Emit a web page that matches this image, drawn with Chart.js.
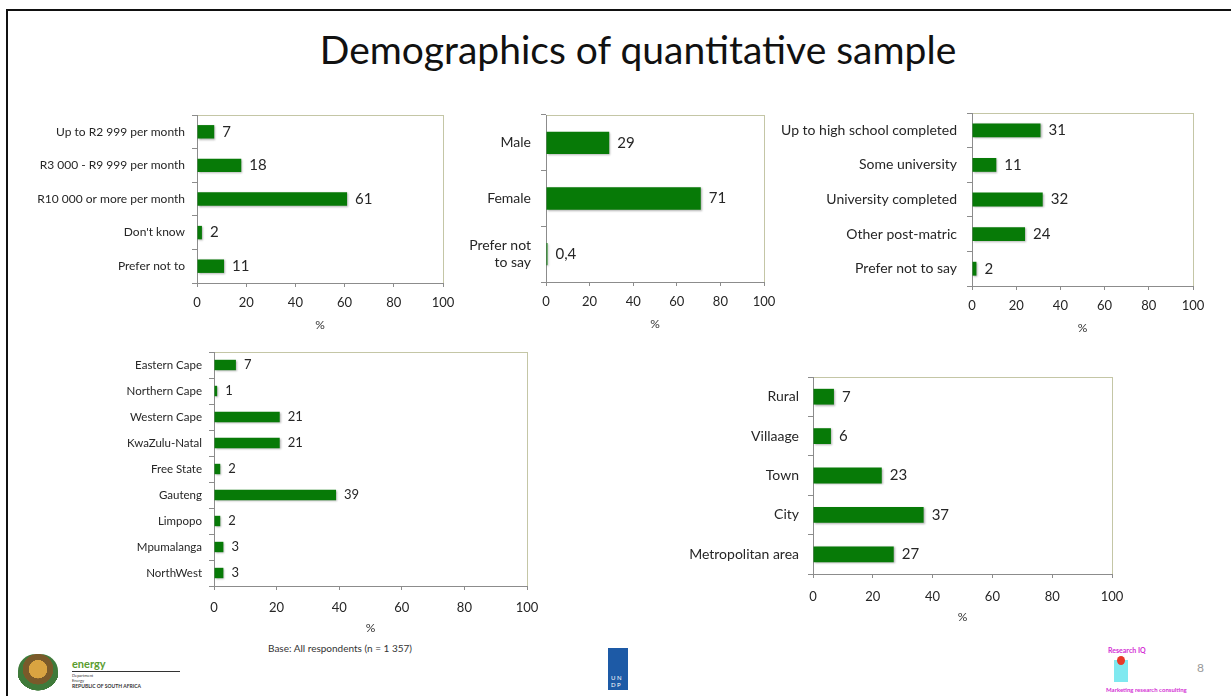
<!DOCTYPE html>
<html>
<head>
<meta charset="utf-8">
<script src="https://cdn.jsdelivr.net/npm/chart.js@4.4.1/dist/chart.umd.min.js"></script>
<style>
  body { margin: 0; background: #fff; font-family: Lato, "Open Sans", sans-serif; }
  #slide { position: relative; width: 1231px; height: 696px; overflow: hidden; }
  #frame { position: absolute; left: 6px; top: 9px; width: 1240px; height: 700px; border-top: 2px solid #111; border-left: 2px solid #111; }
  #title { position: absolute; left: 138px; width: 1000px; top: 26px; text-align: center; font-size: 39px; color: #111; }
  canvas { position: absolute; }
  .txt { position: absolute; white-space: nowrap; }
</style>
</head>
<body>
<div id="slide">
  <div id="frame"></div>
  <div id="title">Demographics of quantitative sample</div>

  <canvas id="income"></canvas>
  <canvas id="gender"></canvas>
  <canvas id="education"></canvas>
  <canvas id="province"></canvas>
  <canvas id="settlement"></canvas>

  <div class="txt" style="left:268px; top:642px; font-size:10px; color:#333;">Base: All respondents (n = 1 357)</div>

  <!-- footer logos, rough -->
  <div style="position:absolute; left:18px; top:654px; width:40px; height:38px; border-radius:45% 45% 40% 40%; background:radial-gradient(circle at 50% 40%, #d9a441 0 30%, #7a5a2a 31% 50%, #3f7a3a 51% 70%, #fff 71%);"></div>
  <div class="txt" style="left:72px; top:657px; font-size:11px; font-weight:bold; color:#5a9c2e;">energy</div>
  <div style="position:absolute; left:72px; top:671px; width:108px; height:1px; background:#333;"></div>
  <div class="txt" style="left:72px; top:673px; font-size:4px; color:#333; line-height:5px;">Department<br>Energy</div>
  <div class="txt" style="left:72px; top:683px; font-size:5px; font-weight:bold; color:#333;">REPUBLIC OF SOUTH AFRICA</div>
  <div style="position:absolute; left:608px; top:648px; width:20px; height:42px; background:#1d5aa6;"></div>
  <div class="txt" style="left:611px; top:674px; font-size:6px; color:#fff; line-height:7px;">U N<br>D P</div>
  <div class="txt" style="left:1108px; top:646px; font-size:7px; font-weight:bold; color:#d42fd4;">Research IQ</div>
  <div style="position:absolute; left:1114px; top:660px; width:14px; height:22px; background:#7fe9f0;"></div>
  <div style="position:absolute; left:1117px; top:656px; width:8px; height:9px; border-radius:50%; background:#e83a2a;"></div>
  <div class="txt" style="left:1106px; top:686px; font-size:6px; font-weight:bold; color:#d42fd4;">Marketing research consulting</div>
  <div class="txt" style="left:1197px; top:660px; font-size:12px; color:#999;">8</div>
</div>

<script>
// Income
const incomeLabels = ['Up to R2 999 per month', 'R3 000 - R9 999 per month', 'R10 000 or more per month', "Don't know", 'Prefer not to'];
const incomeValues = [7, 18, 61, 2, 11];

// Gender
const genderLabels = ['Male', 'Female', ['Prefer not', 'to say']];
const genderValues = [29, 71, 0.4];

// Education
const educationLabels = ['Up to high school completed', 'Some university', 'University completed', 'Other post-matric', 'Prefer not to say'];
const educationValues = [31, 11, 32, 24, 2];

// Province
const provinceLabels = ['Eastern Cape', 'Northern Cape', 'Western Cape', 'KwaZulu-Natal', 'Free State', 'Gauteng', 'Limpopo', 'Mpumalanga', 'NorthWest'];
const provinceValues = [7, 1, 21, 21, 2, 39, 2, 3, 3];

// Settlement type
const settlementLabels = ['Rural', 'Villaage', 'Town', 'City', 'Metropolitan area'];
const settlementValues = [7, 6, 23, 37, 27];

const xTicks = [0, 20, 40, 60, 80, 100];

const FONT = 'Lato, "Open Sans", sans-serif';
const GREEN = '#077a07';
const AXIS = '#8c8c8c';

const plotFrame = {
    id: 'plotFrame',
    beforeDraw(chart) {
        const { ctx, chartArea: a } = chart;
        ctx.save();
        ctx.strokeStyle = '#c4c6a6';
        ctx.lineWidth = 1;
        ctx.strokeRect(Math.round(a.left) + 0.5, Math.round(a.top) + 0.5, Math.round(a.right - a.left), Math.round(a.bottom - a.top));
        ctx.restore();
    }
};

const barShadow = {
    id: 'barShadow',
    beforeDatasetsDraw(chart) {
        const ctx = chart.ctx;
        ctx.save();
        ctx.shadowColor = 'rgba(0,0,0,0.3)';
        ctx.shadowBlur = 2;
        ctx.shadowOffsetX = 1;
        ctx.shadowOffsetY = 1;
    },
    afterDatasetsDraw(chart) {
        chart.ctx.restore();
    }
};

const valueLabels = {
    id: 'valueLabels',
    afterDatasetsDraw(chart, args, opts) {
        const ctx = chart.ctx;
        const data = chart.data.datasets[0].data;
        ctx.save();
        ctx.font = `${opts.size}px ${FONT}`;
        ctx.fillStyle = '#262626';
        ctx.textBaseline = 'middle';
        chart.getDatasetMeta(0).data.forEach((bar, i) => {
            ctx.fillText(String(data[i]).replace('.', ','), bar.x + opts.gap, bar.y);
        });
        ctx.restore();
    }
};

// box: canvas left/top/right/bottom, plot left/top/right/bottom
function makeChart(id, labels, values, box, f) {
    const cv = document.getElementById(id);
    const w = box.right - box.left, h = box.bottom - box.top;
    cv.width = w; cv.height = h;
    cv.style.left = box.left + 'px';
    cv.style.top = box.top + 'px';
    cv.style.width = w + 'px';
    cv.style.height = h + 'px';

    new Chart(cv, {
        type: 'bar',
        data: {
            labels,
            datasets: [{
                data: values,
                backgroundColor: GREEN,
                borderWidth: 0,
                categoryPercentage: 1,
                barPercentage: 0.4,
                minBarLength: 1.5
            }]
        },
        plugins: [plotFrame, barShadow, valueLabels],
        options: {
            indexAxis: 'y',
            responsive: false,
            animation: false,
            devicePixelRatio: 1,
            layout: { padding: { top: box.plotTop - box.top, right: box.right - box.plotRight, left: 0, bottom: 0 } },
            plugins: {
                legend: { display: false },
                tooltip: { enabled: false },
                valueLabels: { size: f.value, gap: f.gap || 8 }
            },
            scales: {
                x: {
                    min: 0, max: 100,
                    afterBuildTicks: s => { s.ticks = xTicks.map(v => ({ value: v })); },
                    afterFit: s => {
                        s.height = box.bottom - box.plotBottom;
                        s.paddingLeft = 0; s.paddingRight = 0;
                    },
                    grid: { drawOnChartArea: false, drawTicks: true, tickLength: 4, color: AXIS },
                    border: { color: AXIS },
                    ticks: { font: { family: FONT, size: f.tick }, color: '#262626', padding: f.tickPad || 7, maxRotation: 0 },
                    title: { display: true, text: '%', font: { family: FONT, size: 12 }, color: '#333', padding: 0 }
                },
                y: {
                    afterFit: s => {
                        s.width = box.plotLeft - box.left;
                        s.paddingTop = 0; s.paddingBottom = 0;
                    },
                    grid: { drawOnChartArea: false, drawTicks: true, tickLength: 5, color: AXIS, offset: true },
                    border: { color: AXIS },
                    ticks: { font: { family: FONT, size: f.label, lineHeight: 1.25 }, color: '#262626', padding: f.labelPad || 8 }
                }
            }
        }
    });
}

makeChart('income', incomeLabels, incomeValues,
    { left: 20, top: 105, right: 462, bottom: 332, plotLeft: 197, plotTop: 115, plotRight: 443, plotBottom: 283 },
    { label: 12, tick: 13, value: 15, labelPad: 7, tickPad: 8 });

makeChart('gender', genderLabels, genderValues,
    { left: 455, top: 105, right: 786, bottom: 331, plotLeft: 546, plotTop: 115, plotRight: 764, plotBottom: 282 },
    { label: 14, tick: 13, value: 15, labelPad: 10, tickPad: 8 });

makeChart('education', educationLabels, educationValues,
    { left: 770, top: 103, right: 1215, bottom: 335, plotLeft: 972, plotTop: 113, plotRight: 1193, plotBottom: 286 },
    { label: 14, tick: 13, value: 15, labelPad: 10, tickPad: 8 });

makeChart('province', provinceLabels, provinceValues,
    { left: 95, top: 342, right: 546, bottom: 635, plotLeft: 214, plotTop: 352, plotRight: 527, plotBottom: 586 },
    { label: 11.5, tick: 13, value: 13, labelPad: 7, tickPad: 10 });

makeChart('settlement', settlementLabels, settlementValues,
    { left: 670, top: 367, right: 1131, bottom: 624, plotLeft: 813, plotTop: 377, plotRight: 1112, plotBottom: 574 },
    { label: 14, tick: 13, value: 15, labelPad: 9, tickPad: 11 });
</script>
</body>
</html>
